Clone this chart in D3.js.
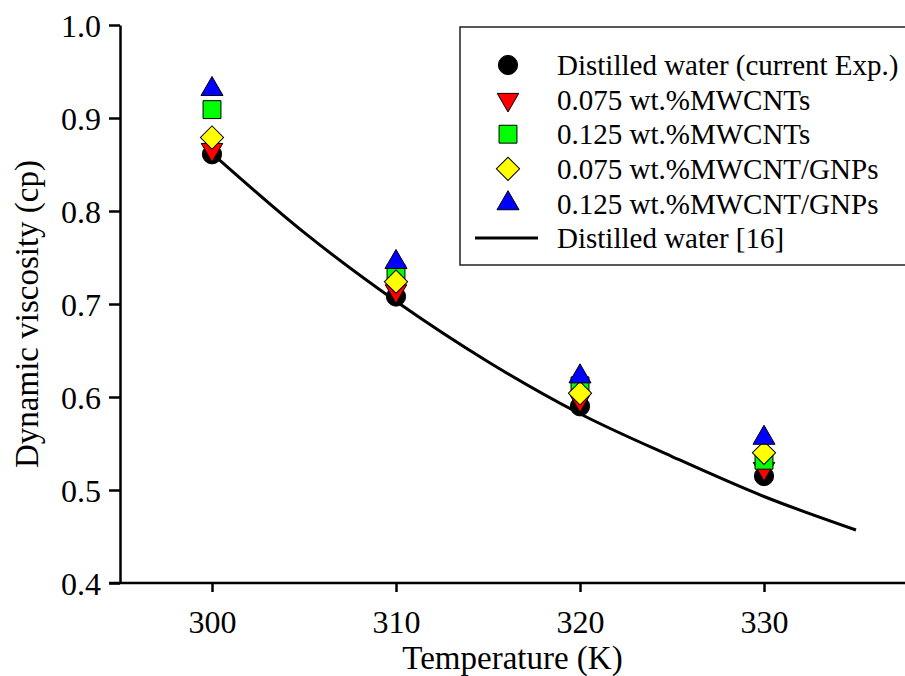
<!DOCTYPE html>
<html>
<head>
<meta charset="utf-8">
<script src="https://cdn.jsdelivr.net/npm/d3@7"></script>
<style>
  body { margin: 0; background: #fff; }
  svg { display: block; }
</style>
</head>
<body>
<svg id="chart" width="905" height="676"></svg>
<script>
// temperatures of the measured points (K)
const temps = [300, 310, 320, 330];

// dynamic viscosity (cp)
const water_exp   = [0.861, 0.708, 0.590, 0.515];
const mwcnt_075   = [0.866, 0.714, 0.597, 0.523];
const mwcnt_125   = [0.909, 0.733, 0.612, 0.532];
const hybrid_075  = [0.879, 0.724, 0.604, 0.540];
const hybrid_125  = [0.931, 0.745, 0.622, 0.556];

// reference curve, distilled water [16]
const ref_temps = [300, 305, 310, 315, 320, 325, 330, 335];
const ref_visc  = [0.862, 0.777, 0.703, 0.638, 0.582, 0.536, 0.493, 0.457];

const legend_labels = [
  "Distilled water (current Exp.)",
  "0.075 wt.%MWCNTs",
  "0.125 wt.%MWCNTs",
  "0.075 wt.%MWCNT/GNPs",
  "0.125 wt.%MWCNT/GNPs",
  "Distilled water [16]"
];

const y_ticks = [0.4, 0.5, 0.6, 0.7, 0.8, 0.9, 1.0];
const x_ticks = [300, 310, 320, 330];

const FONT = '"Liberation Serif"';
const svg = d3.select('#chart');
const m_left = 120, m_right = 948, m_top = 25, m_bottom = 583;

const x = d3.scaleLinear().domain([295, 340]).range([m_left, m_right]);
const y = d3.scaleLinear().domain([0.4, 1.0]).range([m_bottom, m_top]);

// one entry per series: values, symbol, colour, rotation of the symbol
const series = [
  {vals: water_exp,  type: d3.symbolCircle,   size: 290, fill: "#000000", rot: 0},
  {vals: mwcnt_075,  type: d3.symbolTriangle, size: 200, fill: "#ff0000", rot: 180},
  {vals: mwcnt_125,  type: d3.symbolSquare,   size: 320, fill: "#00ff00", rot: 0},
  {vals: hybrid_075, type: d3.symbolSquare,   size: 270, fill: "#ffff00", rot: 45},
  {vals: hybrid_125, type: d3.symbolTriangle, size: 210, fill: "#0000ff", rot: 0}
];

// reference line (drawn first, markers over it)
const line = d3.line()
  .x((d, i) => x(ref_temps[i]))
  .y(d => y(d))
  .curve(d3.curveMonotoneX);

svg.append('path')
  .datum(ref_visc)
  .attr('d', line)
  .attr('fill', 'none')
  .attr('stroke', '#000')
  .attr('stroke-width', 3);

// markers
series.forEach(function(s) {
  svg.append('g').selectAll('path')
    .data(s.vals)
    .enter()
    .append('path')
    .attr('d', d3.symbol().type(s.type).size(s.size))
    .attr('transform', (d, i) => `translate(${x(temps[i])},${y(d)}) rotate(${s.rot})`)
    .attr('fill', s.fill)
    .attr('stroke', '#000')
    .attr('stroke-width', 1);
});

// axes
const yAxis = svg.append('g')
  .attr('transform', `translate(${m_left},0)`)
  .call(d3.axisLeft(y).tickValues(y_ticks).tickFormat(d3.format('.1f')).tickSize(11).tickSizeOuter(0));
const xAxis = svg.append('g')
  .attr('transform', `translate(0,${m_bottom})`)
  .call(d3.axisBottom(x).tickValues(x_ticks).tickSize(9).tickSizeOuter(0));

[yAxis, xAxis].forEach(function(a) {
  a.attr('font-family', FONT);
  a.select('.domain').attr('stroke-width', 2.5);
  a.selectAll('.tick line').attr('stroke-width', 2.5);
  a.selectAll('text').attr('font-family', FONT).attr('font-size', 32).attr('fill', '#000');
});
yAxis.selectAll('text').attr('x', -19).attr('dy', '0.35em');
xAxis.selectAll('text').attr('y', 27).attr('dy', '0.71em');
// x axis line starts at the 0.4 tick end
xAxis.select('.domain').attr('d', `M${m_left - 11},0H905`);

// axis titles
svg.append('text')
  .attr('x', (m_left + 905) / 2)
  .attr('y', 669)
  .attr('text-anchor', 'middle')
  .attr('font-family', FONT)
  .attr('font-size', 33)
  .text('Temperature (K)');

svg.append('text')
  .attr('transform', `translate(38,${(m_top + m_bottom) / 2 + 10}) rotate(-90)`)
  .attr('text-anchor', 'middle')
  .attr('font-family', FONT)
  .attr('font-size', 33)
  .text('Dynamic viscosity (cp)');

// legend
const lg = svg.append('g');
lg.append('rect')
  .attr('x', 460).attr('y', 27)
  .attr('width', 460).attr('height', 238)
  .attr('fill', '#fff')
  .attr('stroke', '#222')
  .attr('stroke-width', 1.5);

const row_y = i => 65 + i * 34.6;

series.forEach(function(s, i) {
  lg.append('path')
    .attr('d', d3.symbol().type(s.type).size(s.size)())
    .attr('transform', `translate(508,${row_y(i)}) rotate(${s.rot})`)
    .attr('fill', s.fill)
    .attr('stroke', '#000')
    .attr('stroke-width', 1);
});
lg.append('line')
  .attr('x1', 475).attr('x2', 538)
  .attr('y1', row_y(5)).attr('y2', row_y(5))
  .attr('stroke', '#000').attr('stroke-width', 3);

lg.selectAll('text.leg')
  .data(legend_labels)
  .enter()
  .append('text')
  .attr('class', 'leg')
  .attr('x', 557)
  .attr('y', (d, i) => row_y(i))
  .attr('dy', '0.35em')
  .attr('font-family', FONT)
  .attr('font-size', 29)
  .text(d => d);
</script>
</body>
</html>
